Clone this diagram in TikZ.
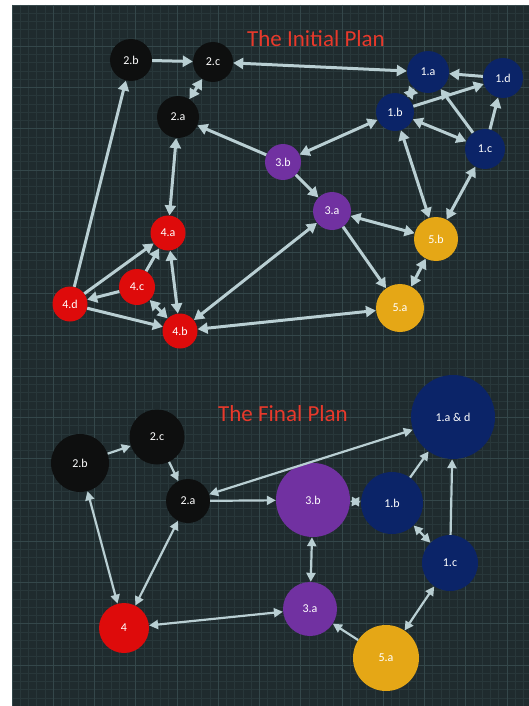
\documentclass[tikz,border=0pt]{standalone}
\usepackage{fontspec}
\setmainfont{Carlito}
\usetikzlibrary{arrows.meta}
\definecolor{bg}{HTML}{1F2B2E}
\definecolor{gminor}{HTML}{28373A}
\definecolor{gmajor}{HTML}{34474A}
\definecolor{blk}{HTML}{0E0F0F}
\definecolor{navy}{HTML}{0B2468}
\definecolor{purp}{HTML}{7131A1}
\definecolor{redn}{HTML}{DE0B0B}
\definecolor{gold}{HTML}{E5A716}
\definecolor{edge}{HTML}{B9CFD3}
\definecolor{ttl}{HTML}{E8392B}
\tikzset{
  nd/.style={circle, inner sep=0pt, text=white, font=\fontsize{12}{12}\selectfont},
  ttlstyle/.style={text=ttl, font=\fontsize{23}{23}\selectfont},
  conn/.style={draw=edge, line width=3pt, -{Triangle[length=10pt,width=11pt]}},
  bconn/.style={draw=edge, line width=3pt, {Triangle[length=10pt,width=11pt]}-{Triangle[length=10pt,width=11pt]}},
  fconn/.style={draw=edge, line width=2.2pt, -{Triangle[length=9pt,width=9pt]}},
  fbconn/.style={draw=edge, line width=2.2pt, {Triangle[length=9pt,width=9pt]}-{Triangle[length=9pt,width=9pt]}},
}
\begin{document}
\begin{tikzpicture}[x=1pt,y=-1pt]
\useasboundingbox (0,0) rectangle (529,706);
\fill[white] (0,0) rectangle (529,706);
\fill[bg] (12,5) rectangle (529,706);
% background grid
\begin{scope}
\clip (12,5) rectangle (529,706);
\foreach \i in {0,...,63} {
  \pgfmathsetmacro{\gx}{12+\i*8.25}
  \draw[gminor, line width=0.6pt] (\gx,5) -- (\gx,706);
}
\foreach \j in {0,...,85} {
  \pgfmathsetmacro{\gy}{5+\j*8.25}
  \draw[gminor, line width=0.6pt] (12,\gy) -- (529,\gy);
}
\foreach \i in {0,...,13} {
  \pgfmathsetmacro{\gx}{12+\i*41.25}
  \draw[gmajor, line width=0.8pt] (\gx,5) -- (\gx,706);
}
\foreach \j in {0,...,17} {
  \pgfmathsetmacro{\gy}{5+\j*41.25}
  \draw[gmajor, line width=0.8pt] (12,\gy) -- (529,\gy);
}
\end{scope}

% ---------- initial plan ----------
\node[ttlstyle] (ttop) at (316,39) {The Initial Plan};
\node[nd, fill=blk, minimum size=42] (a2b) at (131,60) {2.b};
\node[nd, fill=blk, minimum size=40] (a2c) at (213,62) {2.c};
\node[nd, fill=blk, minimum size=42] (a2a) at (178,117) {2.a};
\node[nd, fill=navy, minimum size=42] (a1a) at (428,72) {1.a};
\node[nd, fill=navy, minimum size=40] (a1d) at (503,78) {1.d};
\node[nd, fill=navy, minimum size=38] (a1b) at (395,112) {1.b};
\node[nd, fill=navy, minimum size=40] (a1c) at (485,149) {1.c};
\node[nd, fill=purp, minimum size=36] (a3b) at (283,162) {3.b};
\node[nd, fill=purp, minimum size=38] (a3a) at (332,211) {3.a};
\node[nd, fill=gold, minimum size=44] (a5b) at (436,239) {5.b};
\node[nd, fill=gold, minimum size=48] (a5a) at (400,308) {5.a};
\node[nd, fill=redn, minimum size=35] (a4a) at (168,233) {4.a};
\node[nd, fill=redn, minimum size=36] (a4c) at (137,287) {4.c};
\node[nd, fill=redn, minimum size=35] (a4d) at (70,304) {4.d};
\node[nd, fill=redn, minimum size=35] (a4b) at (180,331) {4.b};

\draw[conn] (a2b) -- (a2c);
\draw[bconn] (a2c) -- (a1a);
\draw[bconn] (a2c) -- (a2a);
\draw[conn] (a3b) -- (a2a);
\draw[bconn] (a2a) -- (a4a);
\draw[conn] (a4d) -- (a2b);
\draw[conn] (a4d) -- (a4a);
\draw[conn] (a4c) -- (a4a);
\draw[conn] (a4c) -- (a4d);
\draw[bconn] (a4c) -- (a4b);
\draw[bconn] (a4a) -- (a4b);
\draw[conn] (a4d) -- (a4b);
\draw[bconn] (a3a) -- (a4b);
\draw[bconn] (a5a) -- (a4b);
\draw[bconn] (a3b) -- (a1b);
\draw[conn] (a3b) -- (a3a);
\draw[bconn] (a3a) -- (a5b);
\draw[conn] (a3a) -- (a5a);
\draw[bconn] (a5b) -- (a5a);
\draw[bconn] (a5b) -- (a1b);
\draw[bconn] (a5b) -- (a1c);
\draw[bconn] (a1b) -- (a1a);
\draw[conn] (a1b) -- (a1d);
\draw[bconn] (a1b) -- (a1c);
\draw[conn] (a1c) -- (a1a);
\draw[conn] (a1c) -- (a1d);
\draw[conn] (a1d) -- (a1a);

% ---------- final plan ----------
\node[ttlstyle] (tbot) at (283,414) {The Final Plan};
\node[nd, fill=blk, minimum size=58] (b2b) at (80,463) {2.b};
\node[nd, fill=blk, minimum size=55] (b2c) at (157,437) {2.c};
\node[nd, fill=blk, minimum size=44] (b2a) at (188,501) {2.a};
\node[nd, fill=purp, minimum size=74] (b3b) at (313,500) {3.b};
\node[nd, fill=navy, minimum size=84] (b1ad) at (453,417) {1.a \& d};
\node[nd, fill=navy, minimum size=62] (b1b) at (392,503) {1.b};
\node[nd, fill=navy, minimum size=56] (b1c) at (450,563) {1.c};
\node[nd, fill=purp, minimum size=54] (b3a) at (310,609) {3.a};
\node[nd, fill=gold, minimum size=66] (b5a) at (386,658) {5.a};
\node[nd, fill=redn, minimum size=50] (b4) at (124,628) {4};

\draw[fconn] (b2b) -- (b2c);
\draw[fconn] (b2c) -- (b2a);
\draw[fbconn] (b2a) -- (b1ad);
\draw[fconn] (b2a) -- (b3b);
\draw[fbconn] (b2b) -- (b4);
\draw[fbconn] (b4) -- (b2a);
\draw[fbconn] (b3a) -- (b4);
\draw[fbconn] (b3b) -- (b1b);
\draw[fbconn] (b3b) -- (b3a);
\draw[fconn] (b1b) -- (b1ad);
\draw[fbconn] (b1b) -- (b1c);
\draw[fconn] (b1c) -- (b1ad);
\draw[fconn] (b5a) -- (b3a);
\draw[fbconn] (b5a) -- (b1c);
\end{tikzpicture}
\end{document}
